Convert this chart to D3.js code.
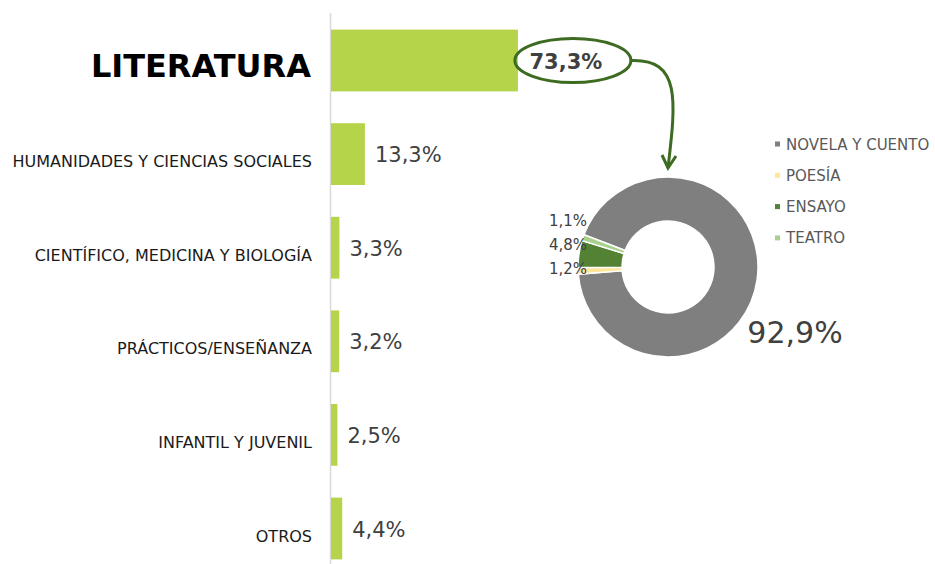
<!DOCTYPE html>
<html><head><meta charset="utf-8">
<script src="https://cdn.jsdelivr.net/npm/d3@7"></script>
<style>
html,body{margin:0;padding:0;background:#fff;}
svg{display:block;font-family:"DejaVu Sans",Verdana,sans-serif;}
</style></head>
<body>
<svg id="chart" width="935" height="564"></svg>
<script>
// ---- data ----
const categories = ["LITERATURA","HUMANIDADES Y CIENCIAS SOCIALES","CIENTÍFICO, MEDICINA Y BIOLOGÍA","PRÁCTICOS/ENSEÑANZA","INFANTIL Y JUVENIL","OTROS"];
const shares = [73.3, 13.3, 3.3, 3.2, 2.5, 4.4];
const shareLabels = ["73,3%","13,3%","3,3%","3,2%","2,5%","4,4%"];

const genres = ["NOVELA Y CUENTO","POESÍA","ENSAYO","TEATRO"];
const genreShares = [92.9, 1.2, 4.8, 1.1];
const genreLabels = ["92,9%","1,2%","4,8%","1,1%"];
const genreColors = ["#7f7f7f","#ffe699","#548235","#a9d18e"];
const firstSliceAngle = 291; // degrees, clockwise from top

// ---- setup ----
const svg = d3.select("#chart");
const axisX = 330.5;

const y = d3.scaleBand().domain(categories).range([13.7, 575.3]).paddingInner(0.34).paddingOuter(0.17);
const x = d3.scaleLinear().domain([0, 100]).range([axisX + 0.5, axisX + 0.5 + 255]);

// axis line
svg.append("line").attr("x1", axisX).attr("x2", axisX).attr("y1", 13).attr("y2", 564)
  .attr("stroke", "#d9d9d9").attr("stroke-width", 1.5);

// bars
svg.selectAll("rect.bar").data(categories).join("rect").attr("class","bar")
  .attr("x", x(0)).attr("y", d => y(d))
  .attr("width", (d,i) => x(shares[i]) - x(0)).attr("height", y.bandwidth())
  .attr("fill", "#b5d44a");

// category labels
svg.selectAll("text.cat").data(categories).join("text").attr("class","cat")
  .attr("x", (d,i) => i === 0 ? 311 : 312)
  .attr("y", (d,i) => y(d) + y.bandwidth()/2 + (i === 0 ? 16 : 13))
  .attr("text-anchor", "end")
  .attr("font-size", (d,i) => i === 0 ? 32 : 16)
  .attr("font-weight", (d,i) => i === 0 ? "bold" : "normal")
  .attr("fill", (d,i) => i === 0 ? "#000" : "#1a1a1a")
  .text(d => d);

// value labels (except the highlighted one)
svg.selectAll("text.val").data(categories.slice(1)).join("text").attr("class","val")
  .attr("x", (d,i) => x(shares[i+1]) + 10)
  .attr("y", d => y(d) + y.bandwidth()/2 + 8)
  .attr("font-size", 21).attr("fill", "#404040")
  .text((d,i) => shareLabels[i+1]);

// highlighted label with ellipse
const litEnd = x(shares[0]);
const litY = y(categories[0]) + y.bandwidth()/2;
const ell = {cx: litEnd + 55, cy: litY, rx: 58, ry: 22};
svg.append("text").attr("x", ell.cx - 7).attr("y", litY + 8)
  .attr("text-anchor","middle").attr("font-size", 21).attr("font-weight","bold")
  .attr("fill","#404040").text(shareLabels[0]);
svg.append("ellipse").attr("cx", ell.cx).attr("cy", ell.cy).attr("rx", ell.rx).attr("ry", ell.ry)
  .attr("fill","none").attr("stroke","#3e6b22").attr("stroke-width", 3);

// donut
const pc = {x: 668, y: 267};
const outerR = 90, innerR = 46;
const a0 = firstSliceAngle * Math.PI / 180;
const pie = d3.pie().sort(null).value(d => d).startAngle(a0).endAngle(a0 + 2*Math.PI);
const arcs = pie(genreShares);
const arc = d3.arc().innerRadius(innerR).outerRadius(outerR);
const g = svg.append("g").attr("transform", `translate(${pc.x},${pc.y})`);
g.selectAll("path").data(arcs).join("path")
  .attr("d", arc).attr("fill", (d,i) => genreColors[i])
  .attr("stroke", "#fff").attr("stroke-width", 1.5);

// arrow from ellipse to donut
const arrowTip = [pc.x, pc.y - outerR - 9];
const arrowStart = [ell.cx + ell.rx, ell.cy];
svg.append("path")
  .attr("d", `M${arrowStart[0]},${arrowStart[1]} C${arrowStart[0]+50},${arrowStart[1]-2} ${arrowTip[0]+8},${arrowStart[1]+40} ${arrowTip[0]},${arrowTip[1]}`)
  .attr("fill","none").attr("stroke","#3e6b22").attr("stroke-width", 3);
svg.append("path")
  .attr("d", `M${arrowTip[0]-6},${arrowTip[1]-13} L${arrowTip[0]},${arrowTip[1]} L${arrowTip[0]+8},${arrowTip[1]-12}`)
  .attr("fill","none").attr("stroke","#3e6b22").attr("stroke-width", 3).attr("stroke-linejoin","miter");

// small slice labels (stacked upward to avoid overlap)
const small = arcs.slice(1).map((d,i) => {
  const m = (d.startAngle + d.endAngle)/2;
  return {label: genreLabels[i+1], yc: -Math.cos(m) * outerR};
});
let prev = Infinity;
small.forEach(s => { s.y = Math.min(s.yc - 2, prev - 24); prev = s.y; });
g.selectAll("text.small").data(small).join("text").attr("class","small")
  .attr("x", -outerR + 9).attr("y", d => d.y + 5.5)
  .attr("text-anchor","end").attr("font-size", 15).attr("fill","#404040")
  .text(d => d.label);

// big label
g.append("text").attr("x", outerR + 37).attr("y", 76)
  .attr("text-anchor","middle").attr("font-size", 30).attr("fill","#404040")
  .text(genreLabels[0]);

// legend
const leg = svg.append("g").attr("transform","translate(775,144)");
const li = leg.selectAll("g").data(genres).join("g").attr("transform", (d,i) => `translate(0,${i*31.3})`);
li.append("rect").attr("x", 0).attr("y", -2.5).attr("width", 5).attr("height", 5).attr("fill", (d,i) => genreColors[i]);
li.append("text").attr("x", 11).attr("y", 5.5).attr("font-size", 15).attr("fill","#595959").text(d => d);
</script>
</body></html>
